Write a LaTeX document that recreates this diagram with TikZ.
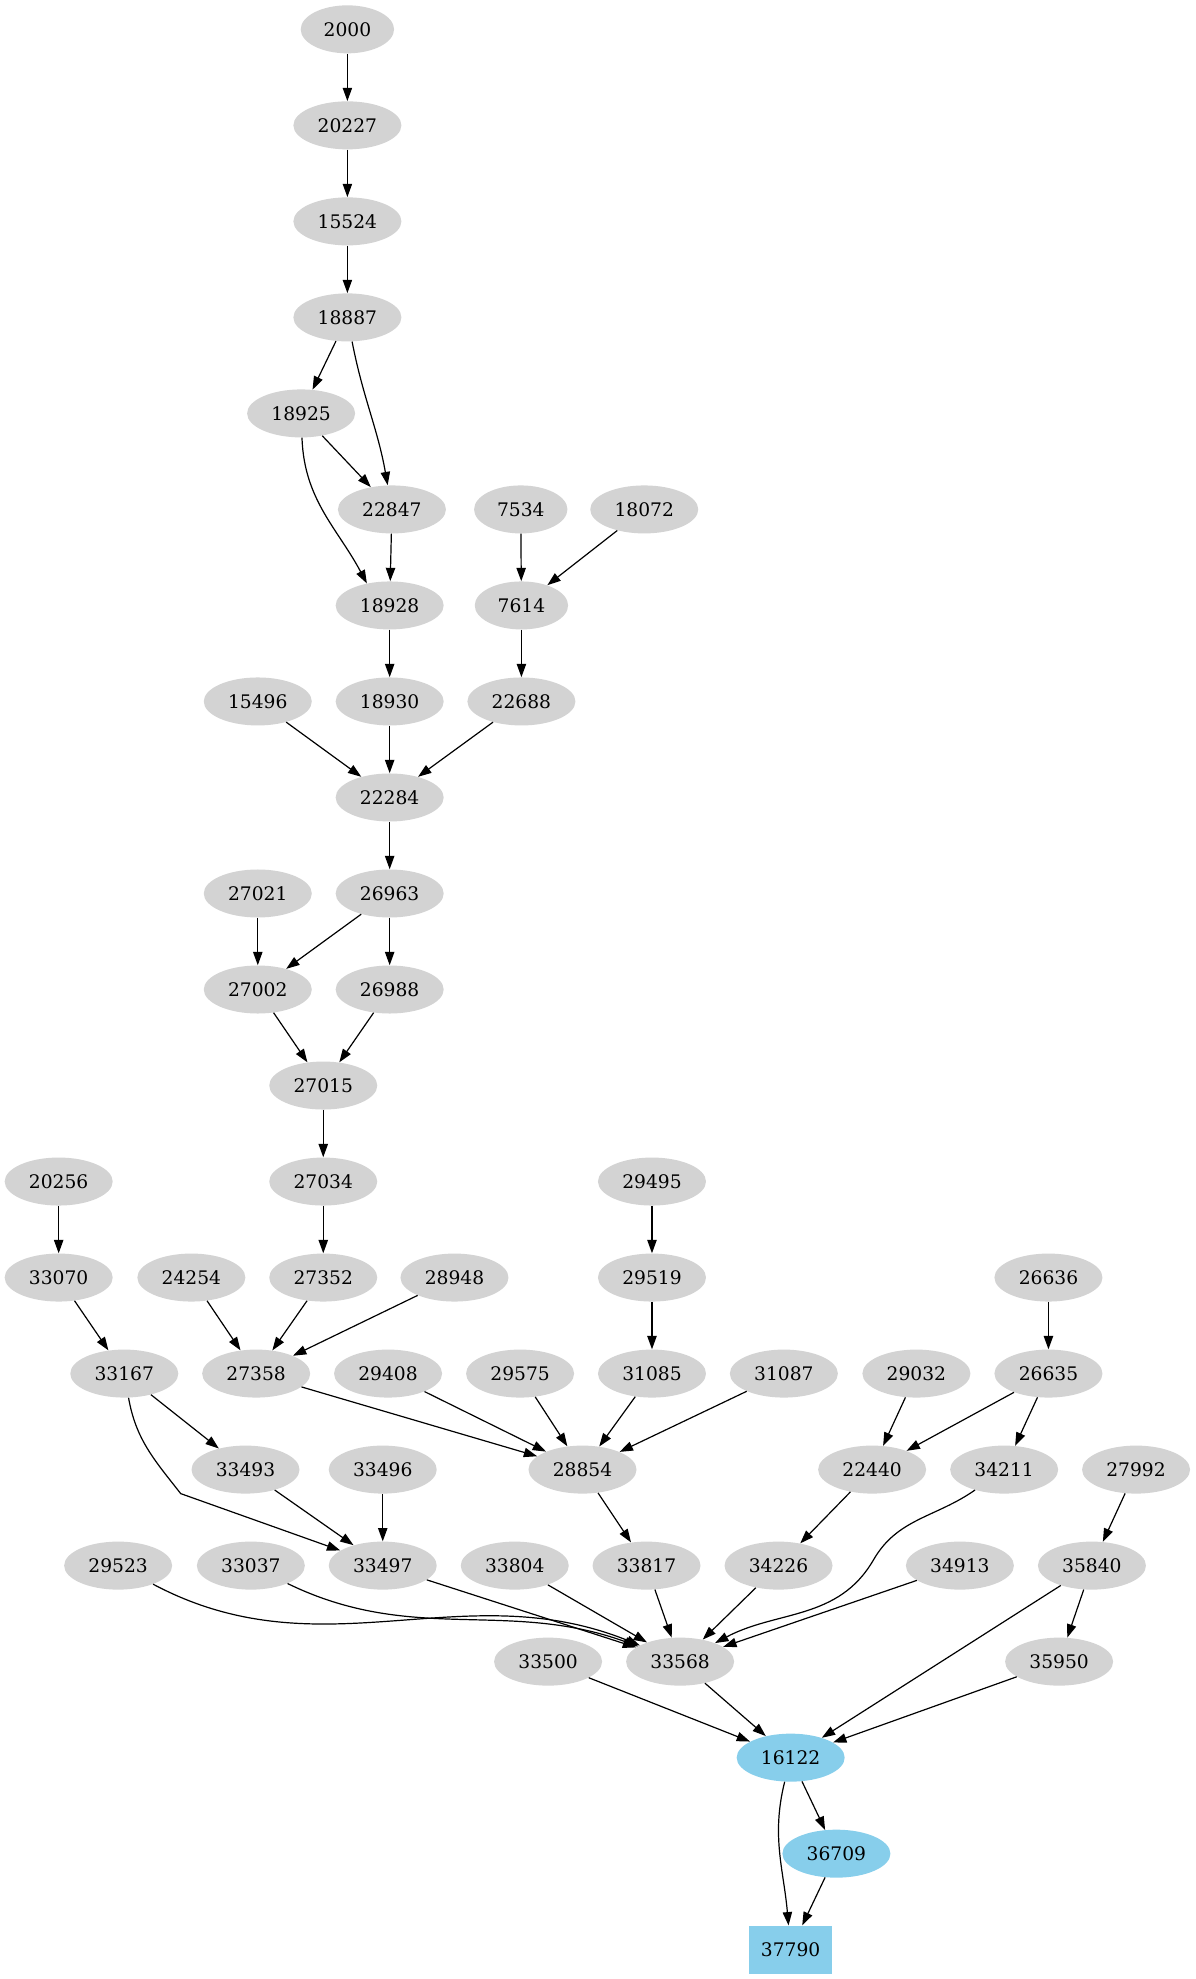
\documentclass[tikz,border=0pt]{standalone}
\usepackage{fontspec}
\setmainfont{DejaVu Serif}
\usetikzlibrary{arrows.meta,shapes.geometric}
\definecolor{lgray}{HTML}{D3D3D3}
\definecolor{sky}{HTML}{87CEEB}
\begin{document}
\begin{tikzpicture}[x=1pt,y=72pt,
  nd/.style={ellipse,fill=lgray,inner sep=0pt,minimum height=36pt,minimum width=81pt,font=\fontsize{14pt}{16pt}\selectfont},
  nd4/.style={nd,minimum width=70pt},
  hl/.style={nd,fill=sky},
  bx/.style={rectangle,fill=sky,inner sep=0pt,minimum height=36pt,minimum width=62.5pt,font=\fontsize{14pt}{16pt}\selectfont},
  ed/.style={-{Triangle[length=10pt,width=7pt]},line width=0.9pt}]
\useasboundingbox (0,0.30556) rectangle (896.25,-20.30556);
\node[nd4] (n2000) at (260.5,0) {2000};
\node[nd] (n20227) at (260.5,-1) {20227};
\node[nd] (n15524) at (260.5,-2) {15524};
\node[nd] (n18887) at (260.5,-3) {18887};
\node[nd] (n18925) at (225.8,-4) {18925};
\node[nd] (n22847) at (293.9,-5) {22847};
\node[nd4] (n7534) at (390.5,-5) {7534};
\node[nd] (n18072) at (483.1,-5) {18072};
\node[nd] (n18928) at (292.2,-6) {18928};
\node[nd4] (n7614) at (391,-6) {7614};
\node[nd] (n15496) at (193.3,-7) {15496};
\node[nd] (n18930) at (292.2,-7) {18930};
\node[nd] (n22688) at (391,-7) {22688};
\node[nd] (n22284) at (292.2,-8) {22284};
\node[nd] (n27021) at (193.3,-9) {27021};
\node[nd] (n26963) at (292.2,-9) {26963};
\node[nd] (n27002) at (193.3,-10) {27002};
\node[nd] (n26988) at (292.2,-10) {26988};
\node[nd] (n27015) at (242.4,-11) {27015};
\node[nd] (n20256) at (44,-12) {20256};
\node[nd] (n27034) at (242.4,-12) {27034};
\node[nd] (n29495) at (488.9,-12) {29495};
\node[nd] (n33070) at (44,-13) {33070};
\node[nd] (n24254) at (143.5,-13) {24254};
\node[nd] (n27352) at (242.4,-13) {27352};
\node[nd] (n28948) at (340.8,-13) {28948};
\node[nd] (n29519) at (488.9,-13) {29519};
\node[nd] (n26636) at (786.2,-13) {26636};
\node[nd] (n33167) at (93.2,-14) {33167};
\node[nd] (n27358) at (192.1,-14) {27358};
\node[nd] (n29408) at (291,-14) {29408};
\node[nd] (n29575) at (390,-14) {29575};
\node[nd] (n31085) at (488.9,-14) {31085};
\node[nd] (n31087) at (587.8,-14) {31087};
\node[nd] (n29032) at (687.2,-14) {29032};
\node[nd] (n26635) at (786.2,-14) {26635};
\node[nd] (n33493) at (184.1,-15) {33493};
\node[nd] (n33496) at (287,-15) {33496};
\node[nd] (n28854) at (436.8,-15) {28854};
\node[nd] (n22440) at (654,-15) {22440};
\node[nd] (n34211) at (753,-15) {34211};
\node[nd] (n27992) at (851.9,-15) {27992};
\node[nd] (n29523) at (88.6,-16) {29523};
\node[nd] (n33037) at (188.1,-16) {33037};
\node[nd] (n33497) at (287,-16) {33497};
\node[nd] (n33804) at (386,-16) {33804};
\node[nd] (n33817) at (484.8,-16) {33817};
\node[nd] (n34226) at (583.8,-16) {34226};
\node[nd] (n34913) at (719.8,-16) {34913};
\node[nd] (n35840) at (818.8,-16) {35840};
\node[nd] (n33500) at (411,-17) {33500};
\node[nd] (n33568) at (510,-17) {33568};
\node[nd] (n35950) at (794.2,-17) {35950};
\node[hl] (n16122) at (592.9,-18) {16122};
\node[hl] (n36709) at (627.2,-19) {36709};
\node[bx] (n37790) at (592.9,-20) {37790};
\coordinate (b1) at (135.5,-15.25);
\coordinate (b2) at (655,-15.94);
% edges
\draw[ed] (n2000) -- (n20227);
\draw[ed] (n20227) -- (n15524);
\draw[ed] (n15524) -- (n18887);
\draw[ed] (n18887) -- (n18925);
\draw[ed] (n18887) to[out=-79,in=100] (n22847);
\draw[ed] (n18925) -- (n22847);
\draw[ed] (n18925) to[out=-88,in=118] (n18928.136);
\draw[ed] (n22847) -- (n18928);
\draw[ed] (n7534) -- (n7614);
\draw[ed] (n18072) -- (n7614);
\draw[ed] (n18928) -- (n18930);
\draw[ed] (n7614) -- (n22688);
\draw[ed] (n15496) -- (n22284);
\draw[ed] (n18930) -- (n22284);
\draw[ed] (n22688) -- (n22284);
\draw[ed] (n22284) -- (n26963);
\draw[ed] (n27021) -- (n27002);
\draw[ed] (n26963) -- (n27002);
\draw[ed] (n26963) -- (n26988);
\draw[ed] (n27002) -- (n27015);
\draw[ed] (n26988) -- (n27015);
\draw[ed] (n27015) -- (n27034);
\draw[ed] (n27034) -- (n27352);
\draw[ed] (n20256) -- (n33070);
\draw[ed] (n33070) -- (n33167);
\draw[ed] (n24254) -- (n27358);
\draw[ed] (n27352) -- (n27358);
\draw[ed] (n28948) -- (n27358);
\draw[ed] (n29495) -- (n29519);
\draw[ed] (n29519) -- (n31085);
\draw[ed] (n26636) -- (n26635);
\draw[ed] (n33167) -- (n33493);
\draw[ed] (n33167) to[out=-80,in=128] (b1) -- (n33497);
\draw[ed] (n27358) -- (n28854);
\draw[ed] (n29408) -- (n28854);
\draw[ed] (n29575) -- (n28854);
\draw[ed] (n31085) -- (n28854);
\draw[ed] (n31087) -- (n28854);
\draw[ed] (n29032) -- (n22440);
\draw[ed] (n26635) -- (n22440);
\draw[ed] (n26635) -- (n34211);
\draw[ed] (n33493) -- (n33497);
\draw[ed] (n33496) -- (n33497);
\draw[ed] (n28854) -- (n33817);
\draw[ed] (n22440) -- (n34226);
\draw[ed] (n27992) -- (n35840);
\draw[ed] (n29523) to[out=-28,in=158] (n33568);
\draw[ed] (n33037) to[out=-26,in=160] (n33568);
\draw[ed] (n33497) -- (n33568);
\draw[ed] (n33804) -- (n33568);
\draw[ed] (n33817) -- (n33568);
\draw[ed] (n34226) -- (n33568);
\draw[ed] (n34211) to[out=-145,in=60] (b2) to[out=-120,in=28] (n33568);
\draw[ed] (n34913) -- (n33568);
\draw[ed] (n35840) -- (n35950);
\draw[ed] (n35840) -- (n16122);
\draw[ed] (n33500) -- (n16122);
\draw[ed] (n33568) -- (n16122);
\draw[ed] (n35950) -- (n16122);
\draw[ed] (n16122) -- (n36709);
\draw[ed] (n16122) to[out=-104,in=95] (n37790);
\draw[ed] (n36709) -- (n37790);
\end{tikzpicture}
\end{document}
